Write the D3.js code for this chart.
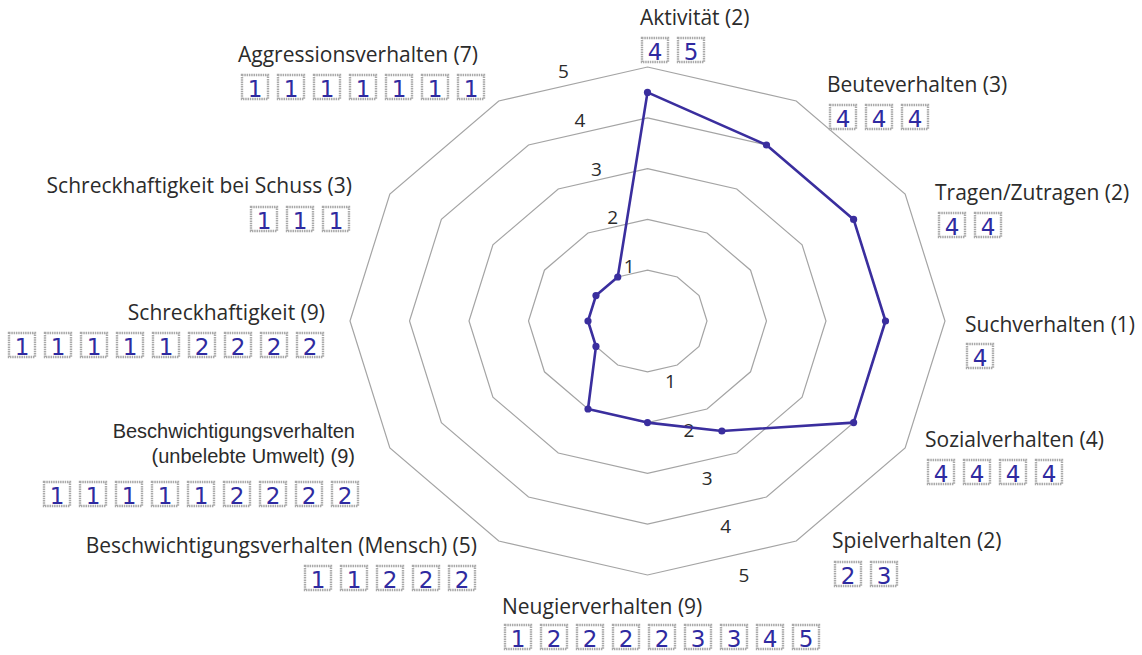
<!DOCTYPE html>
<html><head><meta charset="utf-8">
<script src="https://cdn.jsdelivr.net/npm/d3@7"></script>
<style>
html,body{margin:0;padding:0;background:#fff;}
svg{display:block;}
</style></head>
<body>
<svg id="chart" width="1142" height="655"></svg>
<script>
// ---- data ----
const categories = [
  "Aktivität", "Beuteverhalten", "Tragen/Zutragen", "Suchverhalten",
  "Sozialverhalten", "Spielverhalten", "Neugierverhalten",
  "Beschwichtigungsverhalten (Mensch)",
  "Beschwichtigungsverhalten (unbelebte Umwelt)",
  "Schreckhaftigkeit", "Schreckhaftigkeit bei Schuss", "Aggressionsverhalten"
];
const counts = [2, 3, 2, 1, 4, 2, 9, 5, 9, 9, 3, 7];
const values = [4.5, 4, 4, 4, 4, 2.5, 2, 2, 1, 1, 1, 1];
const ratings = [
  [4, 5], [4, 4, 4], [4, 4], [4], [4, 4, 4, 4], [2, 3],
  [1, 2, 2, 2, 2, 3, 3, 4, 5], [1, 1, 2, 2, 2],
  [1, 1, 1, 1, 1, 2, 2, 2, 2], [1, 1, 1, 1, 1, 2, 2, 2, 2],
  [1, 1, 1], [1, 1, 1, 1, 1, 1, 1]
];
const ringLevels = [1, 2, 3, 4, 5];
const tickLabels = ["1", "2", "3", "4", "5"];

// ---- layout ----
const cx = 647.5, cy = 321;
const svg = d3.select("#chart");
const rx = d3.scaleLinear().domain([0, 5]).range([0, 297.5]);
const ry = d3.scaleLinear().domain([0, 5]).range([0, 254]);
const angle = d3.scaleLinear().domain([0, categories.length]).range([0, 2 * Math.PI]);
const pt = (i, v) => [cx + rx(v) * Math.sin(angle(i)), cy - ry(v) * Math.cos(angle(i))];

const ringColor = "#a4a4a4";
const ink = "#3a2e9e";
const textColor = "#2b2b2b";
const labelFont = "'Open Sans', 'Noto Sans', sans-serif";
const labelSize = 21;

// rings
const ringLine = d3.line().curve(d3.curveLinearClosed);
svg.append("g").selectAll("path").data(ringLevels).join("path")
  .attr("d", lv => ringLine(categories.map((c, i) => pt(i, lv))))
  .attr("fill", "none").attr("stroke", ringColor).attr("stroke-width", 1.2);

// tick labels (upper-left set and lower set)
const tickDeg1 = -16, tickDeg2 = 162;
const tpos = (deg, v) => {
  const a = deg * Math.PI / 180;
  return [cx + rx(v) * Math.sin(a), cy - ry(v) * Math.cos(a)];
};
svg.append("g").selectAll("text").data(ringLevels).join("text")
  .attr("x", (d) => tpos(tickDeg1, d + 0.12)[0])
  .attr("y", (d) => tpos(tickDeg1, d + 0.12)[1] + 7)
  .attr("text-anchor", "middle").attr("font-family", labelFont)
  .attr("font-size", 19).attr("fill", textColor)
  .text((d, i) => tickLabels[i]);
svg.append("g").selectAll("text").data(ringLevels).join("text")
  .attr("x", (d) => tpos(tickDeg2, d + 0.25)[0])
  .attr("y", (d) => tpos(tickDeg2, d + 0.25)[1] + 7)
  .attr("text-anchor", "middle").attr("font-family", labelFont)
  .attr("font-size", 19).attr("fill", textColor)
  .text((d, i) => tickLabels[i]);

// data polygon
const dataPts = values.map((v, i) => pt(i, v));
svg.append("path").attr("d", ringLine(dataPts))
  .attr("fill", "none").attr("stroke", ink).attr("stroke-width", 2.6)
  .attr("stroke-linejoin", "round");
svg.append("g").selectAll("circle").data(dataPts).join("circle")
  .attr("cx", d => d[0]).attr("cy", d => d[1]).attr("r", 3.6).attr("fill", ink);

// category labels with boxes
const layout = [
  {tx: 640, ty: 25, ta: "start", bx: 642, by: 38},
  {tx: 827, ty: 92, ta: "start", bx: 830, by: 105},
  {tx: 935, ty: 200, ta: "start", bx: 939, by: 213},
  {tx: 965, ty: 332, ta: "start", bx: 967, by: 344},
  {tx: 925, ty: 447, ta: "start", bx: 928, by: 460},
  {tx: 832, ty: 548, ta: "start", bx: 835, by: 562},
  {tx: 502, ty: 614, ta: "start", bx: 505, by: 625},
  {tx: 477, ty: 553, ta: "end", bxEnd: 475, by: 566},
  {tx: 355, ty: 438, ta: "end", bxEnd: 358, by: 482, two: true},
  {tx: 325, ty: 320, ta: "end", bxEnd: 323, by: 333},
  {tx: 352, ty: 193, ta: "end", bxEnd: 349, by: 207},
  {tx: 238, ty: 62, ta: "start", bx: 242, by: 75}
];
const boxW = 26, boxH = 24, pitch = 36;
const lg = svg.append("g");
categories.forEach((c, i) => {
  const L = layout[i];
  if (L.two) {
    const t = lg.append("text").attr("text-anchor", "end")
      .attr("font-family", "'Liberation Sans', Arial, sans-serif")
      .attr("font-size", 20).attr("fill", textColor);
    t.append("tspan").attr("x", L.tx).attr("y", L.ty).text("Beschwichtigungsverhalten");
    t.append("tspan").attr("x", L.tx).attr("y", L.ty + 25).text("(unbelebte Umwelt) (" + counts[i] + ")");
  } else {
    lg.append("text").attr("x", L.tx).attr("y", L.ty).attr("text-anchor", L.ta)
      .attr("font-family", labelFont).attr("font-size", labelSize).attr("fill", textColor)
      .text(c + " (" + counts[i] + ")");
  }
  const n = ratings[i].length;
  const x0 = L.bx !== undefined ? L.bx : L.bxEnd - ((n - 1) * pitch + boxW);
  const g = lg.append("g");
  g.selectAll("rect").data(ratings[i]).join("rect")
    .attr("x", (d, k) => x0 + k * pitch).attr("y", L.by)
    .attr("width", boxW).attr("height", boxH)
    .attr("fill", "#fff").attr("stroke", "#a9a9a9").attr("stroke-width", 2.4)
    .attr("stroke-dasharray", "1.5,0.8");
  g.selectAll("text").data(ratings[i]).join("text")
    .attr("x", (d, k) => x0 + k * pitch + boxW / 2).attr("y", L.by + boxH - 2)
    .attr("text-anchor", "middle")
    .attr("font-family", "'DejaVu Sans', sans-serif")
    .attr("font-size", 23).attr("fill", "#2f2aa0")
    .text(d => d);
});
</script>
</body></html>
